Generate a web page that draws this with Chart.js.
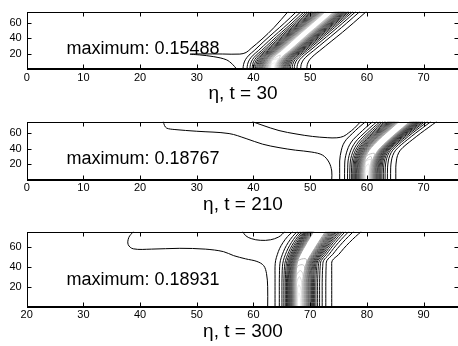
<!DOCTYPE html>
<html>
<head>
<meta charset="utf-8">
<script src="https://cdn.jsdelivr.net/npm/chart.js@4"></script>
<style>
  body { margin: 0; background: #fff; overflow: hidden; width: 458px; height: 346px; position: relative; }
  canvas { position: absolute; left: 0; }
</style>
</head>
<body>
<canvas id="p1" width="460" height="110" style="top:0px"></canvas>
<canvas id="p2" width="460" height="110" style="top:110px"></canvas>
<canvas id="p3" width="460" height="126" style="top:220px"></canvas>
<script>
const titles = ["η, t = 30", "η, t = 210", "η, t = 300"];
const maxLabels = ["maximum: 0.15488", "maximum: 0.18767", "maximum: 0.18931"];
const xTicks1 = [0, 10, 20, 30, 40, 50, 60, 70];
const xTicks3 = [20, 30, 40, 50, 60, 70, 80, 90];
const yTicks = [20, 40, 60];

// contour levels: distance from the ridge as a share of the band half width (lowest level first)
const levelFrac = [1.0, 0.82, 0.71, 0.63, 0.57, 0.52, 0.48, 0.445, 0.415, 0.385,
                   0.36, 0.335, 0.31, 0.29, 0.27, 0.25, 0.23, 0.21, 0.19, 0.17,
                   0.15, 0.13, 0.11, 0.09, 0.07, 0.05];

// t = 30
const ys1 = [0, 6, 12, 18, 24, 36, 48, 60, 75];
const ridge1 = [43.4, 43.5, 43.9, 44.7, 45.7, 47.5, 49.3, 51.2, 53.5];
const left1 = [37.0, 37.1, 37.4, 38.0, 38.9, 40.6, 42.4, 44.2, 46.3];
const right1 = [49.4, 49.5, 49.9, 50.7, 51.7, 53.7, 55.7, 57.6, 59.9];
const caps1 = { 23: 18, 24: 13, 25: 8 };
const extra1 = [
  [[37.0, 0], [36.3, 6], [35.2, 12], [33, 16], [30.5, 18.3], [28.8, 19.3], [31, 19.6], [34.5, 19.5],
   [37.6, 19.4], [38.7, 21.5], [39.6, 27], [41.5, 39], [43.6, 54], [46.1, 75]]
];

// t = 210
const ys2 = [0, 8, 16, 24, 31, 38, 45, 52, 60, 67, 75];
const ridge2 = [60.0, 60.0, 60.1, 60.3, 60.7, 61.3, 62.2, 63.2, 64.4, 65.5, 66.7];
const left2 = [55.2, 55.2, 55.2, 55.2, 55.3, 55.5, 55.8, 56.4, 57.5, 58.5, 59.8];
const right2 = [65.1, 65.1, 65.1, 65.2, 65.4, 65.9, 66.9, 68.1, 69.5, 70.8, 72.3];
const caps2 = { 21: 34, 22: 30, 23: 26, 24: 20, 25: 12 };
const extra2 = [
  [[24.1, 75], [24.3, 70], [24.7, 66.5], [26, 64.8], [30, 62.5], [35.7, 59.5], [38.7, 53], [41.6, 45.8],
   [44.5, 41.3], [47.4, 38], [50.3, 35.5], [52.2, 31.5], [53.3, 22.6], [53.8, 11], [53.8, 0]],
  [[39.8, 75], [41.5, 70.5], [44.5, 63.4], [47.5, 59], [50.4, 55.8], [53, 54.2], [54.7, 54],
   [55.9, 56], [56.8, 60.5], [57.8, 66.5], [58.9, 75]]
];

// t = 300
const ys3 = [0, 8, 16, 24, 32, 40, 46, 52, 58, 64, 70, 75];
const ridge3 = [68.0, 68.0, 68.0, 68.0, 68.1, 68.3, 68.6, 69.1, 69.7, 70.3, 70.9, 71.4];
const left3 = [63.8, 63.8, 63.8, 63.8, 63.8, 63.8, 63.9, 64.2, 64.6, 65.2, 66.0, 66.9];
const right3 = [73.8, 73.8, 73.8, 73.8, 73.8, 73.8, 73.9, 75.0, 75.9, 76.9, 78.0, 79.0];
const caps3 = { 20: 48, 21: 42, 22: 36, 23: 30, 24: 22, 25: 14 };
const extra3 = [
  [[38.8, 75], [38.0, 69], [37.9, 62], [38.8, 57.8], [42, 57.5], [47, 58.3], [51.5, 57.5], [54.7, 55],
   [56.5, 51], [58.6, 47.8], [60.6, 45.2], [61.8, 41], [62.3, 33], [62.5, 20], [62.5, 0]],
  [[58.1, 75], [58.6, 71], [59.6, 68], [61.2, 66.3], [63.0, 66.8], [64.4, 69.5], [65.1, 72.5], [65.5, 75]]
];

const FONT = '"Liberation Sans", Arial, Helvetica, sans-serif';

// low levels black, high levels light grey
const grayOf = (j) => {
  const g = Math.round(240 * Math.pow(j / (levelFrac.length - 1), 1.3));
  return `rgb(${g},${g},${g})`;
};

const line = (pts, color) => ({
  data: pts,
  showLine: true,
  borderColor: color,
  borderWidth: 1,
  pointRadius: 0,
  tension: 0.35,
  fill: false,
  clip: 0,
});

// build the contour lines of the travelling band
const bandLines = (ys, ridge, left, right, caps, skipLeft0) => {
  const sets = [];
  levelFrac.forEach((f, j) => {
    const color = grayOf(j);
    const L = ys.map((y, i) => ({ x: ridge[i] - f * (ridge[i] - left[i]), y }));
    const R = ys.map((y, i) => ({ x: ridge[i] + f * (right[i] - ridge[i]), y }));
    const cap = caps[j];
    if (cap !== undefined) {
      const k = ys.findIndex((y) => y >= cap);
      const pts = L.slice(0, k).concat([{ x: ridge[k], y: cap }], R.slice(0, k).reverse());
      sets.push(line(pts, color));
    } else {
      if (!(j === 0 && skipLeft0)) sets.push(line(L, color));
      sets.push(line(R, color));
    }
  });
  return sets;
};

const framePlugin = {
  id: "frame",
  afterDatasetsDraw(chart, args, opts) {
    const { ctx, chartArea: a, scales } = chart;
    const x = scales.x, y = scales.y;
    const l = Math.round(a.left) + 0.5, r = Math.round(a.right) - 0.5;
    const t = Math.round(a.top) + 0.5, b = Math.round(a.bottom) - 0.5;
    ctx.save();
    ctx.strokeStyle = "#000";
    ctx.lineWidth = 1;
    ctx.strokeRect(l, t, r - l, b - t);
    ctx.lineWidth = 2;
    ctx.beginPath();
    ctx.moveTo(l - 0.5, b + 0.5); ctx.lineTo(r + 0.5, b + 0.5);
    ctx.stroke();
    ctx.lineWidth = 1;
    ctx.beginPath();
    opts.xTicks.forEach((v) => {
      const px = Math.round(x.getPixelForValue(v)) + 0.5;
      ctx.moveTo(px, b); ctx.lineTo(px, b - 4);
      ctx.moveTo(px, t); ctx.lineTo(px, t + 4);
    });
    yTicks.forEach((v) => {
      const py = Math.round(y.getPixelForValue(v)) + 0.5;
      ctx.moveTo(l, py); ctx.lineTo(l + 4, py);
      ctx.moveTo(r, py); ctx.lineTo(r - 4, py);
    });
    ctx.stroke();

    ctx.fillStyle = "#000";
    ctx.font = "18px " + FONT;
    ctx.textAlign = "left";
    ctx.textBaseline = "alphabetic";
    ctx.fillText(opts.label, x.getPixelForValue(opts.labelX), y.getPixelForValue(28) + 6.5);

    ctx.font = "19px " + FONT;
    ctx.textAlign = "center";
    ctx.textBaseline = "middle";
    ctx.fillText(opts.title, (a.left + a.right) / 2, a.bottom + 25);
    ctx.restore();
  },
};

const makePanel = (id, p) => {
  new Chart(document.getElementById(id), {
    type: "scatter",
    data: { datasets: p.datasets },
    options: {
      responsive: false,
      animation: false,
      events: [],
      layout: { padding: { top: p.top, right: 0.7, left: 0, bottom: 0 } },
      plugins: {
        legend: { display: false },
        tooltip: { enabled: false },
        frame: { xTicks: p.xTicks, label: p.label, labelX: p.labelX, title: p.title },
      },
      scales: {
        x: {
          type: "linear",
          min: p.xMin,
          max: p.xMax,
          grid: { display: false, drawTicks: false },
          border: { display: false },
          afterBuildTicks: (s) => { s.ticks = p.xTicks.map((v) => ({ value: v })); },
          afterFit: (s) => { s.height = p.axisH; },
          ticks: { padding: 2, color: "#000", font: { family: FONT, size: 11 }, maxRotation: 0, autoSkip: false },
        },
        y: {
          type: "linear",
          min: 0,
          max: 75,
          grid: { display: false, drawTicks: false },
          border: { display: false },
          afterBuildTicks: (s) => { s.ticks = yTicks.map((v) => ({ value: v })); },
          afterFit: (s) => { s.width = 26.7; },
          ticks: { padding: 5, color: "#000", font: { family: FONT, size: 11 } },
        },
      },
    },
    plugins: [framePlugin],
  });
};

const extraLines = (list) => list.map((pts) => line(pts.map(([x, y]) => ({ x, y })), "#000"));

makePanel("p1", {
  datasets: extraLines(extra1).concat(bandLines(ys1, ridge1, left1, right1, caps1, true)),
  xMin: 0, xMax: 76.3, xTicks: xTicks1, top: 3.5, axisH: 41.1,
  label: maxLabels[0], labelX: 7, title: titles[0],
});
makePanel("p2", {
  datasets: extraLines(extra2).concat(bandLines(ys2, ridge2, left2, right2, caps2, false)),
  xMin: 0, xMax: 76.3, xTicks: xTicks1, top: 4.7, axisH: 40.5,
  label: maxLabels[1], labelX: 7, title: titles[1],
});
makePanel("p3", {
  datasets: extraLines(extra3).concat(bandLines(ys3, ridge3, left3, right3, caps3, false)),
  xMin: 20, xMax: 96.3, xTicks: xTicks3, top: 6, axisH: 39.3,
  label: maxLabels[2], labelX: 27, title: titles[2],
});
</script>
</body>
</html>
